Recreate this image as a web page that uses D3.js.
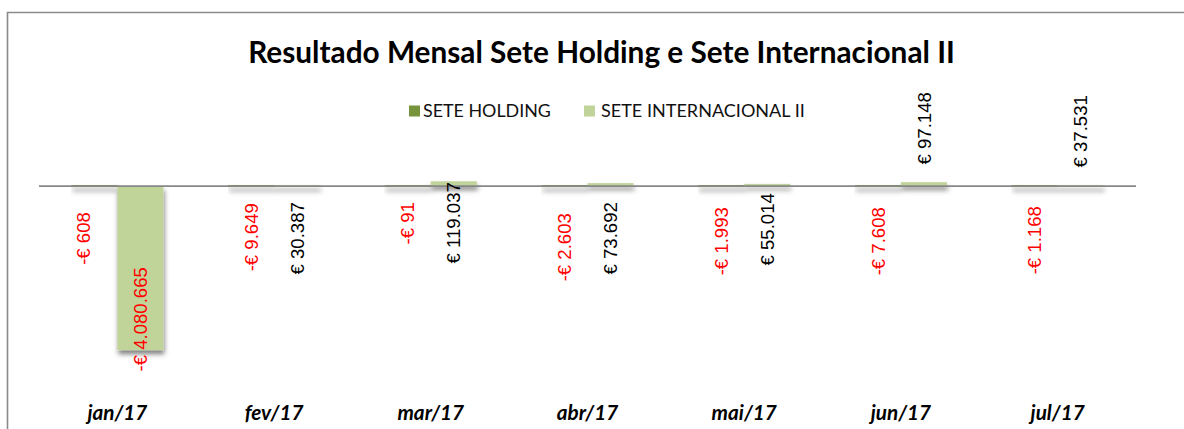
<!DOCTYPE html>
<html>
<head>
<meta charset="utf-8">
<script src="https://cdn.jsdelivr.net/npm/d3@7"></script>
<style>
  html, body { margin: 0; padding: 0; background: #fff; }
  svg { display: block; }
</style>
</head>
<body>
<svg id="chart" width="1184" height="429"></svg>
<script>
// ---------- data ----------
const categories = ['jan/17', 'fev/17', 'mar/17', 'abr/17', 'mai/17', 'jun/17', 'jul/17'];
const seriesNames = ['SETE HOLDING', 'SETE INTERNACIONAL II'];
const seteHolding = [-608, -9649, -91, -2603, -1993, -7608, -1168];
const seteInternacional = [-4080665, 30387, 119037, 73692, 55014, 97148, 37531];
const chartTitle = 'Resultado Mensal Sete Holding e Sete Internacional II';

// ---------- layout (label nudges, as placed in the original) ----------
const holdingLabelTop = [26, 17, 16, 27, 21, 21, 20];   // px from zero line to label top
const intlLabelTop = [81, 16, -4, 16, 7, -94, -91];
const holdingLabelDx = [-11, 0, 0, 0, 0, 0, 0];

const W = 1184, H = 429;
const plotLeft = 39, plotRight = 1136, plotTop = 166, plotBottom = 367;
const colors = ['#77933C', '#C0D49A'];

const svg = d3.select('#chart');

// shadow filter
const defs = svg.append('defs');
const f = defs.append('filter').attr('id', 'shadow')
  .attr('filterUnits', 'userSpaceOnUse')
  .attr('x', 0).attr('y', 0).attr('width', W).attr('height', H);
f.append('feDropShadow').attr('dx', 1).attr('dy', 4).attr('stdDeviation', 2.8)
  .attr('flood-color', '#000').attr('flood-opacity', 0.5);

// border (chart area frame, partially visible)
svg.append('path')
  .attr('d', `M7.5,${H} L7.5,12.5 L${W},12.5`)
  .attr('fill', 'none').attr('stroke', '#8a8a8a').attr('stroke-width', 1.6);

// scales
const x0 = d3.scaleBand().domain(categories).range([plotLeft, plotRight])
  .paddingInner(0.413).paddingOuter(0.2065);
const x1 = d3.scaleBand().domain(seriesNames).range([0, x0.bandwidth()]);
const y = d3.scaleLinear().domain([-4500000, 500000]).range([plotBottom, plotTop]);

const locale = d3.formatLocale({ decimal: ',', thousands: '.', grouping: [3], currency: ['€ ', ''], minus: '-' });
const fmt = locale.format('$,.0f');

const rows = categories.map((c, i) => ({ cat: c, i, vals: [seteHolding[i], seteInternacional[i]] }));

// bars
const minH = 2;
const g = svg.append('g');
const groups = g.selectAll('g.grp').data(rows).join('g')
  .attr('transform', d => `translate(${x0(d.cat)},0)`);
groups.selectAll('rect').data(d => d.vals.map((v, k) => ({ v, k }))).join('rect')
  .attr('x', d => x1(seriesNames[d.k]))
  .attr('width', x1.bandwidth())
  .attr('y', d => {
    const h = Math.abs(y(d.v) - y(0));
    return h < minH ? y(0) - minH / 2 : Math.min(y(0), y(d.v));
  })
  .attr('height', d => Math.max(minH, Math.abs(y(d.v) - y(0))))
  .attr('fill', d => colors[d.k])
  .attr('filter', 'url(#shadow)');

// zero line
svg.append('line')
  .attr('x1', plotLeft).attr('x2', plotRight)
  .attr('y1', y(0)).attr('y2', y(0))
  .attr('stroke', '#878787').attr('stroke-width', 1.6);

// data labels (rotated)
const labelFont = '"Liberation Sans", Arial, sans-serif';
function addLabels(values, series, tops, dxs) {
  svg.append('g').selectAll('text').data(values).join('text')
    .attr('transform', (v, i) => {
      const cx = x0(categories[i]) + x1(series) + x1.bandwidth() / 2 + (dxs ? dxs[i] : 0);
      const ty = y(0) + tops[i];
      return `translate(${cx},${ty}) rotate(-90)`;
    })
    .attr('dy', '0.36em')
    .attr('text-anchor', 'end')
    .attr('font-family', labelFont)
    .attr('font-size', 18.6)
    .attr('fill', v => v < 0 ? '#FF0000' : '#000000')
    .text(v => fmt(v));
}
addLabels(seteHolding, seriesNames[0], holdingLabelTop, holdingLabelDx);
addLabels(seteInternacional, seriesNames[1], intlLabelTop, null);

// fit helper
function fit(sel, targetWidth, baseSize) {
  sel.attr('font-size', baseSize);
  const w = sel.node().getComputedTextLength();
  sel.attr('font-size', baseSize * targetWidth / w);
  return baseSize * targetWidth / w;
}

// title
const title = svg.append('text')
  .attr('x', (248 + 955) / 2).attr('y', 63)
  .attr('text-anchor', 'middle')
  .attr('font-family', 'Lato, "Open Sans", sans-serif')
  .attr('font-weight', 700)
  .attr('fill', '#000')
  .text(chartTitle);
fit(title, 707, 30);

// legend
const legendItems = [
  { name: seriesNames[0], sx: 409, tx: 423, color: colors[0], w: 128 },
  { name: seriesNames[1], sx: 584, tx: 601, color: colors[1], w: 204 }
];
const lg = svg.append('g');
legendItems.forEach(it => {
  lg.append('rect').attr('x', it.sx).attr('y', 105.5).attr('width', 11).attr('height', 11)
    .attr('fill', it.color);
  const t = lg.append('text').attr('x', it.tx).attr('y', 117)
    .attr('font-family', 'Lato, "Open Sans", sans-serif')
    .attr('fill', '#111')
    .text(it.name);
  fit(t, it.w, 18);
});

// category axis (bottom)
const axisG = svg.append('g').attr('transform', 'translate(0,404)')
  .call(d3.axisBottom(x0).tickSize(0).tickPadding(0));
axisG.select('.domain').remove();
const axisTexts = axisG.selectAll('text')
  .attr('font-family', 'Lato, "Open Sans", sans-serif')
  .attr('font-weight', 700)
  .attr('font-style', 'italic')
  .attr('fill', '#000')
  .attr('dy', '0.75em');
const first = axisG.select('text');
const sz = fit(first, 60, 20);
axisTexts.attr('font-size', sz);
</script>
</body>
</html>
